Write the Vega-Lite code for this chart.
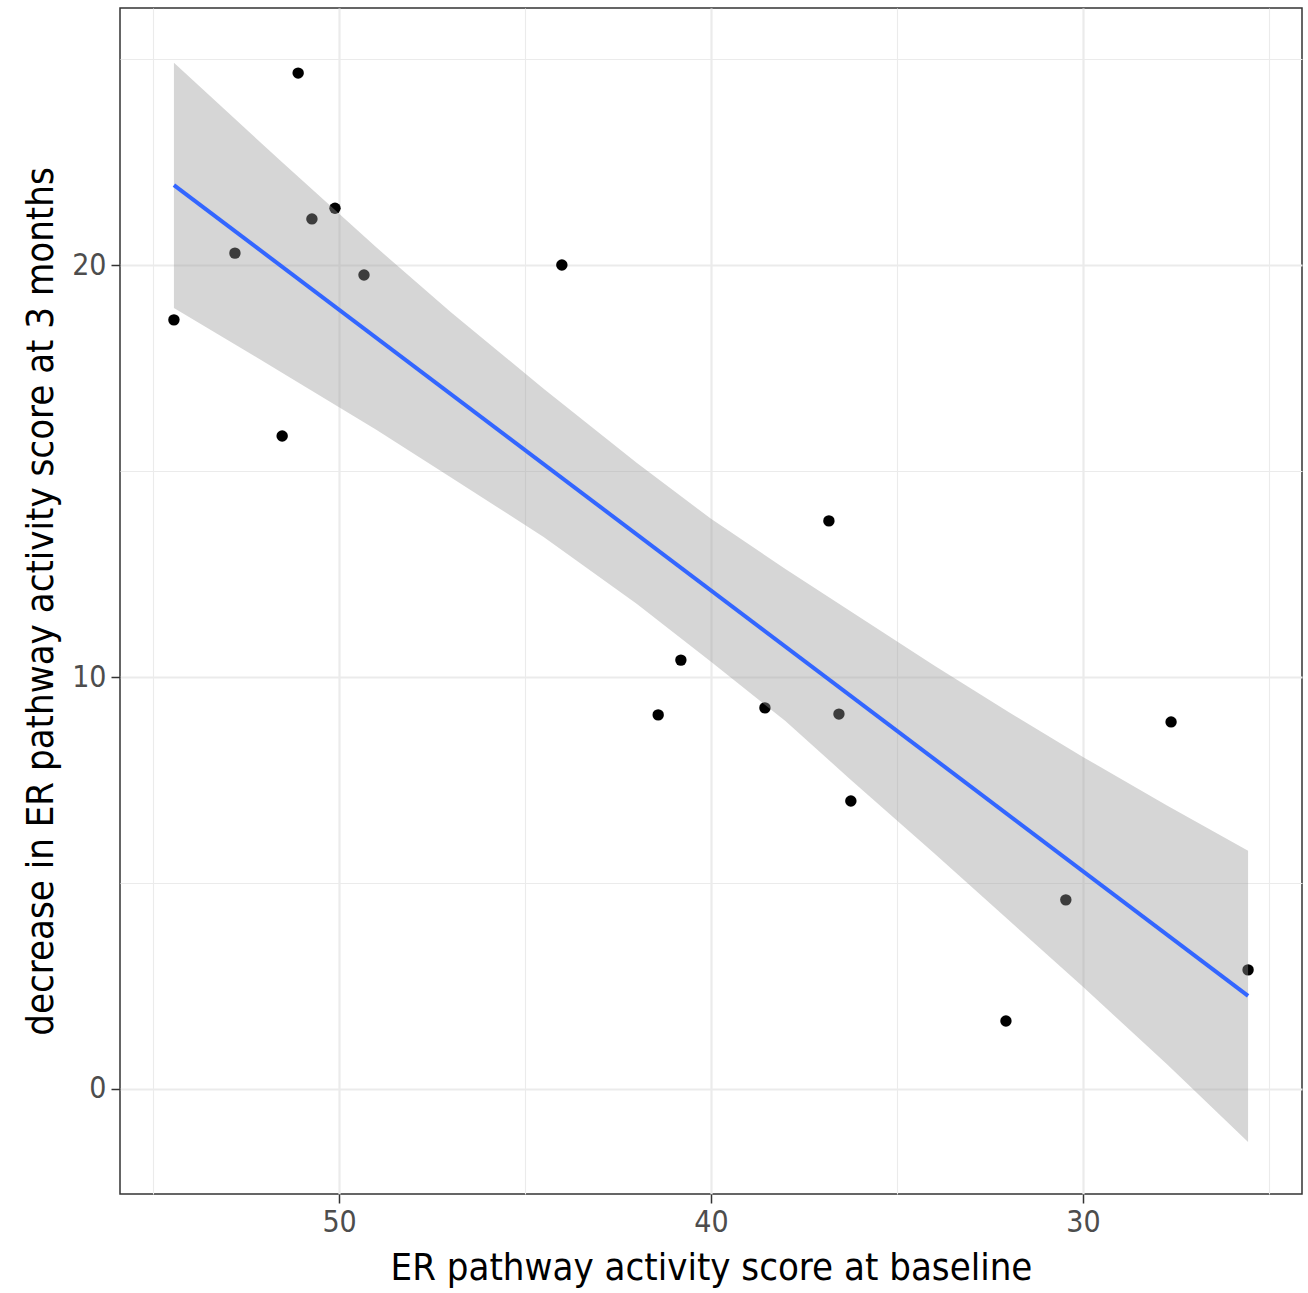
{
  "$schema": "https://vega.github.io/schema/vega-lite/v6.json",
  "width": 1182,
  "height": 1186,
  "autosize": {"type": "none"},
  "padding": {"left": 120, "top": 8, "right": 6, "bottom": 99},
  "background": "white",
  "config": {
    "view": {"stroke": "#333333", "strokeWidth": 1.5},
    "axis": {
      "labelFont": "'DejaVu Sans Condensed', 'DejaVu Sans', sans-serif",
      "labelFontSize": 30,
      "labelColor": "#4D4D4D",
      "titleFont": "'DejaVu Sans Condensed', 'DejaVu Sans', sans-serif",
      "titleFontSize": 38,
      "titleFontWeight": "normal",
      "titleColor": "#000000",
      "domain": false,
      "tickColor": "#333333",
      "tickWidth": 1.5,
      "tickSize": 9,
      "gridColor": "#EBEBEB"
    }
  },
  "datasets": {
    "points": [
      {"baseline": 54.44, "decrease": 18.67},
      {"baseline": 51.10, "decrease": 24.66},
      {"baseline": 52.80, "decrease": 20.29},
      {"baseline": 50.73, "decrease": 21.12},
      {"baseline": 50.11, "decrease": 21.38},
      {"baseline": 49.33, "decrease": 19.76},
      {"baseline": 51.53, "decrease": 15.85},
      {"baseline": 44.01, "decrease": 20.00},
      {"baseline": 36.83, "decrease": 13.79},
      {"baseline": 40.81, "decrease": 10.41},
      {"baseline": 41.42, "decrease": 9.08},
      {"baseline": 38.55, "decrease": 9.25},
      {"baseline": 36.56, "decrease": 9.10},
      {"baseline": 36.24, "decrease": 6.99},
      {"baseline": 27.63, "decrease": 8.91},
      {"baseline": 30.46, "decrease": 4.59},
      {"baseline": 32.07, "decrease": 1.65},
      {"baseline": 25.56, "decrease": 2.89}
    ],
    "band": [
      {"baseline": 54.44, "lower": 18.96, "upper": 24.91},
      {"baseline": 51.5, "lower": 17.37, "upper": 22.47},
      {"baseline": 49.0, "lower": 16.0, "upper": 20.43},
      {"baseline": 47.0, "lower": 14.85, "upper": 18.86},
      {"baseline": 44.5, "lower": 13.4, "upper": 17.0},
      {"baseline": 42.0, "lower": 11.78, "upper": 15.2},
      {"baseline": 40.0, "lower": 10.37, "upper": 13.84},
      {"baseline": 38.0, "lower": 8.93, "upper": 12.62},
      {"baseline": 36.26, "lower": 7.52, "upper": 11.6},
      {"baseline": 34.0, "lower": 5.72, "upper": 10.28},
      {"baseline": 32.0, "lower": 4.1, "upper": 9.15},
      {"baseline": 30.0, "lower": 2.48, "upper": 8.06},
      {"baseline": 27.74, "lower": 0.6, "upper": 6.88},
      {"baseline": 25.56, "lower": -1.29, "upper": 5.78}
    ]
  },
  "encoding": {
    "x": {
      "field": "baseline",
      "type": "quantitative",
      "title": "ER pathway activity score at baseline",
      "scale": {"domain": [24.11, 55.89], "reverse": true, "nice": false, "zero": false},
      "axis": {
        "values": [25, 30, 35, 40, 45, 50, 55],
        "labelExpr": "datum.value % 10 === 0 ? datum.label : ''",
        "gridWidth": {"condition": {"test": "datum.value % 10 === 0", "value": 2.2}, "value": 1.1},
        "tickOpacity": {"condition": {"test": "datum.value % 10 === 0", "value": 1}, "value": 0},
        "labelPadding": 4,
        "titlePadding": 12
      }
    }
  },
  "layer": [
    {
      "data": {"name": "points"},
      "mark": {"type": "circle", "size": 130, "color": "#000000", "opacity": 1},
      "encoding": {
        "y": {
          "field": "decrease",
          "type": "quantitative",
          "title": "decrease in ER pathway activity score at 3 months",
          "scale": {"domain": [-2.55, 26.24], "nice": false, "zero": false},
          "axis": {
            "values": [0, 5, 10, 15, 20, 25],
            "labelExpr": "datum.value % 10 === 0 ? datum.label : ''",
            "gridWidth": {"condition": {"test": "datum.value % 10 === 0", "value": 2.2}, "value": 1.1},
            "tickOpacity": {"condition": {"test": "datum.value % 10 === 0", "value": 1}, "value": 0},
            "labelPadding": 5,
            "titlePadding": 11
          }
        }
      }
    },
    {
      "data": {"name": "band"},
      "mark": {"type": "area", "color": "#999999", "opacity": 0.4},
      "encoding": {
        "y": {"field": "lower", "type": "quantitative", "title": "decrease in ER pathway activity score at 3 months"},
        "y2": {"field": "upper"}
      }
    },
    {
      "data": {"name": "points"},
      "transform": [{"regression": "decrease", "on": "baseline"}],
      "mark": {"type": "line", "color": "#3366FF", "strokeWidth": 4},
      "encoding": {
        "y": {"field": "decrease", "type": "quantitative", "title": "decrease in ER pathway activity score at 3 months"}
      }
    }
  ]
}
